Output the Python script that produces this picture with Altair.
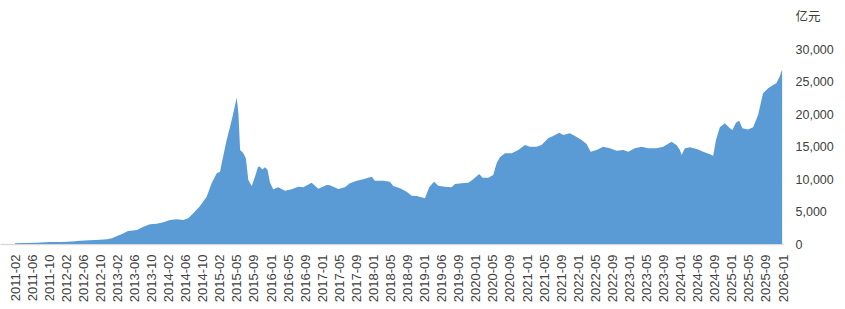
import altair as alt
import pandas as pd

# Tick labels of the category axis (one every ~81 trading days)
tick_labels = [
    "2011-02", "2011-06", "2011-10", "2012-02", "2012-06", "2012-10",
    "2013-02", "2013-06", "2013-10", "2014-02", "2014-06", "2014-10",
    "2015-02", "2015-05", "2015-09", "2016-01", "2016-05", "2016-09",
    "2017-01", "2017-05", "2017-09", "2018-01", "2018-05", "2018-09",
    "2019-01", "2019-06", "2019-09", "2020-01", "2020-05", "2020-09",
    "2021-01", "2021-05", "2021-09", "2022-01", "2022-05", "2022-09",
    "2023-01", "2023-05", "2023-09", "2024-01", "2024-06", "2024-09",
    "2025-01", "2025-05", "2025-09", "2026-01",
]

# Position on the category axis (in tick-label units) and balance (亿元)
position = [
    0.00, 0.59, 1.23, 2.05, 2.64, 3.05, 3.51, 3.81, 4.39, 4.98,
    5.39, 5.68, 5.98, 6.27, 6.62, 6.91, 7.15, 7.52, 7.91, 8.30,
    8.69, 9.08, 9.47, 9.86, 10.15, 10.45, 10.84, 11.23, 11.52, 11.82,
    12.01, 12.17, 12.40, 12.60, 12.79, 12.99, 13.09, 13.19, 13.38, 13.53,
    13.67, 13.87, 14.06, 14.24, 14.35, 14.49, 14.65, 14.80, 14.94, 15.13,
    15.42, 15.82, 16.21, 16.60, 16.89, 17.38, 17.77, 18.26, 18.45, 18.94,
    19.33, 19.62, 20.02, 20.40, 20.90, 21.09, 21.58, 21.97, 22.16, 22.56,
    22.95, 23.24, 23.53, 23.92, 24.02, 24.27, 24.55, 24.80, 25.19, 25.58,
    25.78, 26.17, 26.56, 26.85, 27.20, 27.40, 27.73, 28.02, 28.22, 28.41,
    28.71, 29.10, 29.49, 29.88, 30.17, 30.56, 30.85, 31.24, 31.53, 31.89,
    32.12, 32.51, 32.81, 33.20, 33.49, 33.73, 34.08, 34.46, 34.86, 35.25,
    35.64, 35.93, 36.32, 36.71, 37.10, 37.59, 37.98, 38.47, 38.76, 38.96,
    39.06, 39.25, 39.55, 39.94, 40.32, 40.72, 40.91, 41.07, 41.30, 41.59,
    41.89, 42.04, 42.24, 42.43, 42.62, 42.95, 43.25, 43.54, 43.83, 44.13,
    44.42, 44.61, 44.80, 44.95,
]
balance = [
    110, 150, 210, 290, 320, 360, 430, 500, 580, 660,
    730, 900, 1230, 1550, 2000, 2100, 2170, 2670, 3030, 3130,
    3340, 3700, 3800, 3700, 3960, 4730, 5860, 7300, 9360, 10900,
    11150, 13200, 16040, 18090, 20150, 22600, 20150, 14500, 13980, 13200,
    9870, 8940, 10380, 11900, 11920, 11500, 11820, 11400, 9500, 8430,
    8740, 8220, 8430, 8840, 8740, 9450, 8530, 9100, 9050, 8480,
    8740, 9360, 9760, 9970, 10380, 9760, 9760, 9610, 8940, 8590,
    8070, 7450, 7400, 7140, 7040, 8740, 9610, 8990, 8840, 8740,
    9250, 9360, 9450, 9970, 10790, 10220, 10220, 10640, 12440, 13370,
    13980, 13980, 14490, 15270, 15010, 15010, 15270, 16300, 16650, 17160,
    16810, 17070, 16650, 16040, 15420, 14230, 14490, 15010, 14750, 14390,
    14490, 14230, 14750, 15010, 14750, 14750, 15010, 15780, 15270, 14490,
    13720, 14750, 14910, 14650, 14230, 13830, 13620, 16040, 18000, 18610,
    17840, 17580, 18710, 19020, 17840, 17680, 18000, 19890, 23240, 24010,
    24520, 24780, 25800, 26900,
]
y_ticks = [0, 5000, 10000, 15000, 20000, 25000, 30000]

df = pd.DataFrame({"t": position, "v": balance})

label_array = "[" + ",".join("'" + s + "'" for s in tick_labels) + "]"

chart = (
    alt.Chart(df)
    .mark_area(color="#5B9BD5", interpolate="linear")
    .encode(
        x=alt.X(
            "t:Q",
            scale=alt.Scale(domain=[-0.88, 45], nice=False, zero=False),
            axis=alt.Axis(
                values=list(range(len(tick_labels))),
                labelExpr=label_array + "[datum.value]",
                labelAngle=-90,
                labelAlign="right",
                labelBaseline="middle",
                labelFont="Liberation Sans",
                labelFontSize=13,
                labelColor="#404040",
                labelPadding=10,
                labelOverlap=False,
                labelFlush=False,
                ticks=False,
                grid=False,
                domainColor="#D9D9D9",
                domainWidth=1.5,
            ),
            title=None,
        ),
        y=alt.Y(
            "v:Q",
            scale=alt.Scale(domain=[0, 30000], nice=False),
            axis=alt.Axis(
                orient="right",
                values=y_ticks,
                format=",.0f",
                labelAlign="left",
                labelBaseline="middle",
                labelFont="Liberation Sans",
                labelFontSize=12.5,
                labelColor="#404040",
                labelPadding=12,
                ticks=False,
                domain=False,
                grid=False,
                titleAngle=0,
                titleAlign="left",
                titleBaseline="middle",
                titleX=12,
                titleY=-33,
                titleFont="Noto Sans CJK SC",
                titleFontSize=12.5,
                titleFontWeight="normal",
                titleColor="#404040",
            ),
            title="亿元",
        ),
    )
    .properties(
        width=783,
        height=194.5,
        autosize=alt.AutoSizeParams(type="none"),
        padding={"left": 0, "top": 49.5, "right": 62, "bottom": 65},
    )
    .configure_view(stroke=None)
)

chart.save("out.html", embed_options={"renderer": "svg", "actions": False})
